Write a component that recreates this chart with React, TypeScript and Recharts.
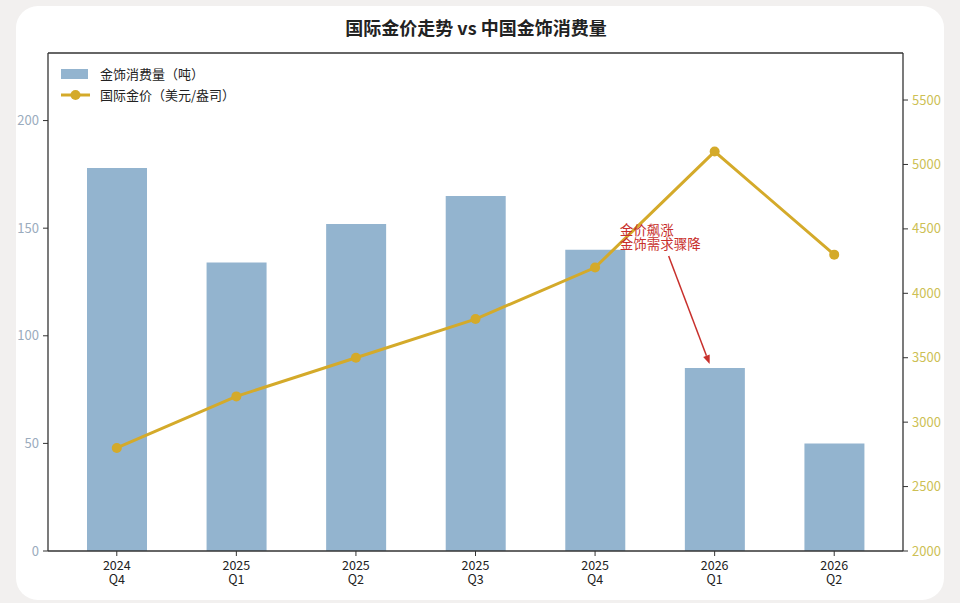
import React from 'react';
import { ComposedChart, Bar, Line, XAxis, YAxis, ReferenceLine, ReferenceDot } from 'recharts';

const quarters = ['2024\nQ4', '2025\nQ1', '2025\nQ2', '2025\nQ3', '2025\nQ4', '2026\nQ1', '2026\nQ2'];
const jewelryTons = [178, 134, 152, 165, 140, 85, 50];
const goldPrice = [2800, 3200, 3500, 3800, 4200, 5100, 4300];
const leftTicks = [0, 50, 100, 150, 200];
const rightTicks = [2000, 2500, 3000, 3500, 4000, 4500, 5000, 5500];

const data = quarters.map((q, i) => ({ q, tons: jewelryTons[i], price: goldPrice[i] }));

const FONT = '"Noto Sans CJK SC", "Noto Sans", sans-serif';
const BAR = '#93b4cf';
const GOLD = '#d4aa2a';
const RED = '#c8302c';
const SPINE = '#333333';

const XTick = (props: any) => {
  const { x, y, payload } = props;
  const lines = String(payload.value).split('\n');
  return (
    <text x={x} y={y + 12} textAnchor="middle" fill="#222" fontSize={12.5} fontFamily={FONT}>
      {lines.map((l, i) => (
        <tspan key={i} x={x} dy={i === 0 ? 0 : 14}>
          {l}
        </tspan>
      ))}
    </text>
  );
};

const LegendBox = () => (
  <svg width={220} height={44} style={{ position: 'absolute', left: 61, top: 64, overflow: 'visible' }}>
    <rect x={0} y={5} width={27} height={10} fill={BAR} />
    <text x={39} y={14.5} fontSize={13} fill="#222" fontFamily={FONT}>金饰消费量（吨）</text>
    <line x1={0} y1={31} x2={29} y2={31} stroke={GOLD} strokeWidth={3} />
    <circle cx={14.5} cy={31} r={5} fill={GOLD} />
    <text x={39} y={35.5} fontSize={13} fill="#222" fontFamily={FONT}>国际金价（美元/盎司）</text>
  </svg>
);

const Annotation = (props: any) => {
  const { cx, cy } = props;
  const tx = cx - 5;
  const ty = cy - 4;
  const sx = cx - 46;
  const sy = cy - 112;
  const ang = Math.atan2(ty - sy, tx - sx);
  const L = 9;
  const W = 3.5;
  const bx = tx - L * Math.cos(ang);
  const by = ty - L * Math.sin(ang);
  const p1 = `${tx},${ty}`;
  const p2 = `${bx - W * Math.sin(ang)},${by + W * Math.cos(ang)}`;
  const p3 = `${bx + W * Math.sin(ang)},${by - W * Math.cos(ang)}`;
  return (
    <g>
      <line x1={sx} y1={sy} x2={bx} y2={by} stroke={RED} strokeWidth={1.5} />
      <polygon points={`${p1} ${p2} ${p3}`} fill={RED} />
      <text x={cx - 95} y={cy - 133} fontSize={13.5} fill={RED} fontFamily={FONT}>
        <tspan x={cx - 95} dy={0}>金价飙涨</tspan>
        <tspan x={cx - 95} dy={13.5}>金饰需求骤降</tspan>
      </text>
    </g>
  );
};

export default function App() {
  return (
    <div style={{ position: 'absolute', left: 0, top: 0, width: 960, height: 603, background: '#f2f0ef', overflow: 'hidden' }}>
      <div style={{ position: 'absolute', left: 16, top: 6, width: 928, height: 594, background: '#ffffff', borderRadius: 22 }} />
      <div style={{ position: 'absolute', left: 0, top: 13, width: 952, textAlign: 'center', fontFamily: FONT, fontWeight: 700, fontSize: 18, color: '#222', lineHeight: '28px' }}>
        国际金价走势 vs 中国金饰消费量
      </div>
      <div style={{ position: 'absolute', left: 0, top: 0 }}>
        <ComposedChart width={960} height={603} data={data} margin={{ top: 53, right: 7, bottom: 12, left: 8 }}>
          <XAxis
            dataKey="q"
            interval={0}
            padding={{ left: 9, right: 9 }}
            tick={<XTick />}
            tickSize={5}
            axisLine={{ stroke: SPINE, strokeWidth: 1.3 }}
            tickLine={{ stroke: SPINE }}
            height={40}
          />
          <YAxis
            yAxisId="left"
            orientation="left"
            width={40}
            domain={[0, 231.4]}
            ticks={leftTicks}
            allowDataOverflow
            tickSize={5}
            tickMargin={4}
            tick={{ fill: '#9aabbd', fontSize: 13, fontFamily: FONT }}
            axisLine={{ stroke: SPINE, strokeWidth: 1.3 }}
            tickLine={{ stroke: SPINE }}
          />
          <YAxis
            yAxisId="right"
            orientation="right"
            width={50}
            domain={[2000, 5865]}
            ticks={rightTicks}
            allowDataOverflow
            tickSize={5}
            tickMargin={4}
            tick={{ fill: '#cdbf55', fontSize: 13, fontFamily: FONT, textAnchor: 'start' }}
            axisLine={{ stroke: SPINE, strokeWidth: 1.3 }}
            tickLine={{ stroke: SPINE }}
          />
          <ReferenceLine yAxisId="left" y={231.4} stroke={SPINE} strokeWidth={1.3} />
          <Bar yAxisId="left" dataKey="tons" fill={BAR} barSize={60} isAnimationActive={false} />
          <Line
            yAxisId="right"
            dataKey="price"
            stroke={GOLD}
            strokeWidth={3}
            dot={{ r: 5, fill: GOLD, stroke: GOLD, strokeWidth: 0 }}
            activeDot={false}
            isAnimationActive={false}
          />
          <ReferenceDot yAxisId="left" x={quarters[5]} y={jewelryTons[5]} shape={<Annotation />} />
        </ComposedChart>
      </div>
      <LegendBox />
    </div>
  );
}
